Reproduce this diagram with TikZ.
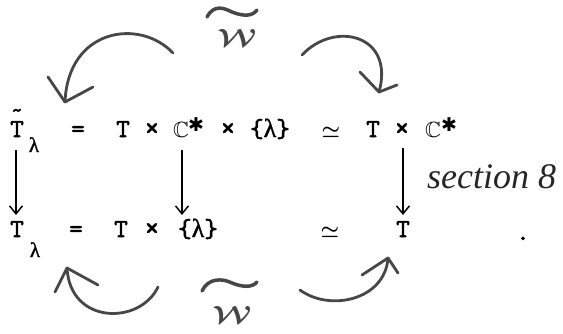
\documentclass[tikz,border=0pt]{standalone}
\usepackage{amssymb}
\usepackage{bm}
\usepackage{fontspec}
\usetikzlibrary{arrows.meta}
\newfontfamily\dv{DejaVu Sans}
\newfontfamily\handfont{Liberation Serif}
\newfontfamily\lamfont[FakeBold=1.5]{Liberation Serif}
\newfontfamily\twfont[FakeBold=2]{lmmono10-regular.otf}
\tikzset{
  tt/.style={font=\twfont\fontsize{26}{26}\selectfont, inner sep=0pt, anchor=base},
  ttx/.style={font=\twfont\fontsize{29}{29}\selectfont, inner sep=0pt, anchor=base},
  sublam/.style={font=\lamfont\fontsize{21}{21}\selectfont, inner sep=0pt, anchor=base},
  smalltilde/.style={font=\twfont\fontsize{22}{22}\selectfont, inner sep=0pt, anchor=center},
  cc/.style={font=\fontsize{22}{22}\selectfont, inner sep=0pt, anchor=base},
  star/.style={font=\dv\fontsize{19}{19}\selectfont, inner sep=0pt, anchor=center},
  iso/.style={font=\fontsize{22}{22}\selectfont, inner sep=0pt, anchor=base},
  varrow/.style={line width=1.5pt, -{Straight Barb[length=8pt,width=13pt,line width=1.5pt]}},
  handline/.style={line width=2.8pt, black!72, line cap=round, line join=round},
  handw/.style={font=\fontsize{40}{40}\selectfont, text=black!72, inner sep=0pt, anchor=center, xscale=1.25},
  handtext/.style={font=\handfont\itshape\fontsize{36}{36}\selectfont, text=black!85, inner sep=0pt, anchor=base west},
}
\begin{document}
\begin{tikzpicture}[x=1pt,y=-1pt]
\useasboundingbox (0,0) rectangle (563,333);
% ---------- top row ----------
\node[tt] (Tt) at (17,137) {T};
\node[smalltilde] (Ttil) at (17,113) {\char"7E};
\node[sublam] (lt) at (34,152) {λ};
\node[tt] (eqt) at (78,137) {=};
\node[tt] (T1) at (123,137) {T};
\node[ttx] (x1) at (152,137) {×};
\node[cc] (C1) at (181,137) {$\bm{\mathbb{C}}$};
\node[star] (s1) at (196,125) {✱};
\node[ttx] (x2) at (228,137) {×};
\node[tt] (lam1) at (270,137) {\{{\lamfont λ}\}};
\node[iso] (iso1) at (331,137) {$\bm{\simeq}$};
\node[tt] (T2) at (373,137) {T};
\node[ttx] (x3) at (402,137) {×};
\node[cc] (C2) at (433,137) {$\bm{\mathbb{C}}$};
\node[star] (s2) at (449,125) {✱};
% ---------- bottom row ----------
\node[tt] (Tb) at (17,237) {T};
\node[sublam] (lb) at (35,257) {λ};
\node[tt] (eqb) at (76,237) {=};
\node[tt] (T3) at (121,237) {T};
\node[ttx] (x4) at (152,237) {×};
\node[tt] (lam2) at (198,237) {\{{\lamfont λ}\}};
\node[iso] (iso2) at (330,237) {$\bm{\simeq}$};
\node[tt] (T4) at (403,237) {T};
\node[tt] (dot) at (523,240) {.};
% ---------- vertical arrows ----------
\coordinate (ltop) at (16,150);
\coordinate (lbot) at (16,215);
\coordinate (mtop) at (182,150);
\coordinate (mbot) at (182,215);
\coordinate (rtop) at (403,148);
\coordinate (rbot) at (403,215);
\draw[varrow] (ltop) -- (lbot);
\draw[varrow] (mtop) -- (mbot);
\draw[varrow] (rtop) -- (rbot);
\node[handtext] (sec) at (427,188) {section 8};
% ---------- hand-drawn W tilde ----------
\node[handw] (Wtop) at (237,38) {$\bm{\mathcal{W}}$};
\draw[handline, line width=3.5pt] (207,17) .. controls (214,4) and (224,8) .. (232,12) .. controls (242,16) and (252,17) .. (257,10);
\node[handw] (Wbot) at (232,315) {$\bm{\mathcal{W}}$};
\draw[handline, line width=3.5pt] (202,291) .. controls (208,278) and (222,278) .. (232,283) .. controls (242,287) and (252,288) .. (257,282);
% top-left arrow
\coordinate (a1s) at (173,53);
\coordinate (a1e) at (65,102);
\draw[handline] (a1s) .. controls (140,18) and (68,28) .. (a1e);
\draw[handline] (a1e) -- ++(-17,-25);
\draw[handline] (a1e) -- ++(28,-15);
% top-right arrow
\coordinate (a2s) at (302,55);
\coordinate (a2e) at (379,92);
\draw[handline] (a2s) .. controls (335,20) and (395,35) .. (a2e);
\draw[handline] (a2e) -- ++(-19,-20);
\draw[handline] (a2e) -- ++(18,-7);
% bottom-left arrow
\coordinate (a3s) at (158,287);
\coordinate (a3e) at (67,268);
\draw[handline] (a3s) .. controls (140,325) and (70,325) .. (a3e);
\draw[handline] (a3e) -- ++(-12,24);
\draw[handline] (a3e) -- ++(31,17);
% bottom-right arrow
\coordinate (a4s) at (300,290);
\coordinate (a4e) at (388,258);
\draw[handline] (a4s) .. controls (330,312) and (385,300) .. (a4e);
\draw[handline] (a4e) -- ++(-26,17);
\draw[handline] (a4e) -- ++(10,15);
\end{tikzpicture}
\end{document}
